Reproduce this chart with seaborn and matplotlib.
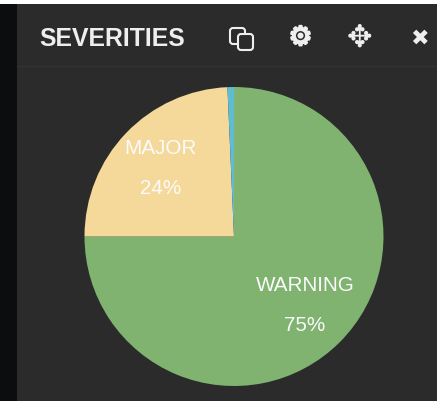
import matplotlib
matplotlib.use('Agg')
import matplotlib.pyplot as plt
import matplotlib.patches as mpatches
import matplotlib.patheffects as pe
import seaborn as sns

severities = ['WARNING', 'MAJOR', 'OTHER']
shares = [75, 24.3, 0.7]
share_labels = ['75%', '24%', '']
colors = ['#7fb36f', '#f5d99a', '#5fbcd3']
title = 'SEVERITIES'

sns.set_theme(style='white')
plt.rcParams['font.family'] = ['Liberation Sans', 'DejaVu Sans']

W, H = 437, 401
fig = plt.figure(figsize=(W / 100, H / 100), dpi=100, facecolor='white')

# page background, in pixels
bg = fig.add_axes([0, 0, 1, 1])
bg.set_xlim(0, W)
bg.set_ylim(H, 0)
bg.axis('off')
bg.add_patch(mpatches.Rectangle((17, 4), W - 17, H - 4, color='#2b2b2b', lw=0))
bg.add_patch(mpatches.Rectangle((0, 4), 17, H - 4, color='#0c0d0f', lw=0))
bg.plot([17, W], [65.5, 65.5], color='#333333', lw=1)
bg.text(39, 38.5, title, color='#eeeeee', fontsize=17.8, fontweight='bold', va='center', ha='left')

# toolbar icons
for x, y, w, h in [(230, 28, 15, 16), (238, 34, 15, 16)]:
    bg.add_patch(mpatches.FancyBboxPatch((x, y), w, h, boxstyle='round,pad=0,rounding_size=3',
                                         fc='#2b2b2b', ec='#eeeeee', lw=1.5))
thick = [pe.withStroke(linewidth=1.5, foreground='#eeeeee')]
bg.text(300.5, 38, '\u2699', color='#eeeeee', fontsize=19, va='center', ha='center',
        family='DejaVu Sans', path_effects=thick)
bg.text(360, 38.5, '\u2725', color='#eeeeee', fontsize=22, va='center', ha='center',
        family='DejaVu Sans')
bg.text(419.5, 39, '\u2716', color='#eeeeee', fontsize=16, va='center', ha='center',
        family='DejaVu Sans')

# pie, clockwise from 12 o'clock
cx, cy, r = 234, 236.5, 149.5
ax = fig.add_axes([(cx - r) / W, 1 - (cy + r) / H, 2 * r / W, 2 * r / H])
ax.pie(shares, colors=colors, startangle=90, counterclock=False, radius=1,
       wedgeprops={'linewidth': 0})
ax.set_xlim(-1, 1)
ax.set_ylim(-1, 1)

# slice labels, placed in page pixels on top of the pie
label_xy = [(305, 285.5), (160.5, 148.5)]
for name, pct, (x, y) in zip(severities, share_labels, label_xy):
    ax.text(x, y, name, color='#fbfbfb', fontsize=14.9, ha='center', va='center',
            transform=bg.transData, zorder=5)
    ax.text(x, y + 40, pct, color='#fbfbfb', fontsize=14.9, ha='center', va='center',
            transform=bg.transData, zorder=5)

fig.savefig('out.png', dpi=100, facecolor=fig.get_facecolor())
